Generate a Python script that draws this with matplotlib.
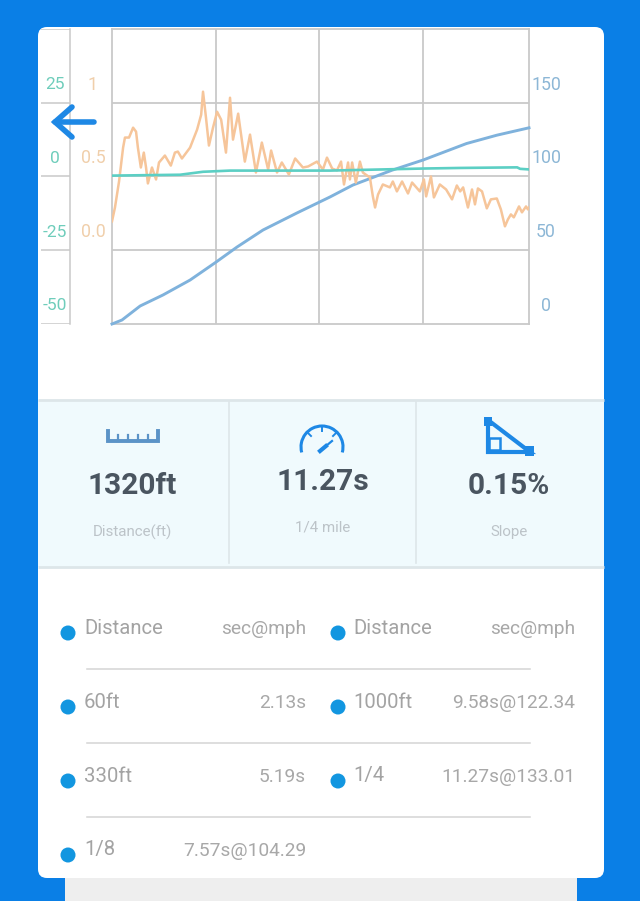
import matplotlib
matplotlib.use("Agg")
import matplotlib.pyplot as plt
from matplotlib.patches import FancyBboxPatch, Rectangle, Circle, Arc

plt.rcParams['font.family'] = ['Roboto', 'DejaVu Sans']

# ---- chart data, x is time in seconds
g_t = [0, 0.08, 0.19, 0.30, 0.35, 0.46, 0.57, 0.65, 0.70, 0.78, 0.86, 0.92, 0.97, 1.08, 1.19, 1.27,
       1.43, 1.59, 1.70, 1.78, 1.89, 2.11, 2.30, 2.41, 2.46, 2.54, 2.62, 2.73, 2.84, 2.95, 3.08, 3.19,
       3.27, 3.41, 3.59, 3.73, 3.89, 4.05, 4.22, 4.30, 4.46, 4.59, 4.78, 4.95, 5.16, 5.30, 5.54, 5.70,
       5.81, 5.95, 6.08, 6.19, 6.27, 6.38, 6.43, 6.49, 6.59, 6.70, 6.78, 6.97, 7.05, 7.11, 7.19, 7.32,
       7.51, 7.59, 7.70, 7.84, 8.00, 8.11, 8.32, 8.43, 8.49, 8.62, 8.70, 8.86, 9.03, 9.19, 9.32, 9.41,
       9.49, 9.62, 9.73, 9.81, 9.89, 10.00, 10.13, 10.24, 10.40, 10.51, 10.62, 10.70, 10.78, 10.86,
       11.00, 11.08, 11.19, 11.24, 11.27]
g_val = [.196, .290, .466, .696, .764, .764, .831, .804, .696, .561, .662, .561, .453, .561, .480, .595,
         .642, .574, .662, .669, .622, .696, .818, .919, 1.075, .899, .710, .831, .939, .885, .662, 1.034,
         .750, .926, .601, .784, .527, .730, .547, .676, .527, .595, .514, .622, .561, .568, .601, .547,
         .628, .554, .541, .601, .446, .595, .480, .595, .459, .601, .527, .493, .365, .290, .378, .446,
         .426, .466, .399, .466, .385, .459, .399, .480, .365, .500, .358, .446, .412, .345, .439, .399,
         .426, .290, .412, .311, .419, .399, .284, .345, .351, .277, .162, .209, .243, .223,
         .297, .257, .297, .277, .290]

speed_t = [0, 0.27, 0.76, 1.38, 2.11, 2.78, 3.38, 4.08, 5.00, 5.89, 6.51, 7.57, 8.41, 9.58, 10.40, 11.27]
speed = [0, 2.7, 12.2, 19.7, 29.8, 41.4, 52.2, 63.7, 75.3, 86.1, 94.2, 104.29, 111.2, 122.34, 128.0, 133.01]

slope_t = [0, 1.84, 2.46, 3.19, 5.89, 8.41, 9.41, 10.95, 11.03, 11.27]
slope = [0.3, 0.6, 1.6, 2.0, 2.0, 2.7, 2.9, 3.1, 2.6, 2.4]

speed_ticks = [0, 50, 100, 150]
g_ticks = [0.0, 0.5, 1.0]
g_labels = ['0.0', '0.5', '1']
slope_ticks = [-50, -25, 0, 25]
slope_labels = ['-50', '-25', '0', '25']

# ---- page text
stat_vals = ['1320ft', '11.27s', '0.15%']
stat_names = ['Distance(ft)', '1/4 mile', 'Slope']
left_names = ['Distance', '60ft', '330ft', '1/8']
left_vals = ['sec@mph', '2.13s', '5.19s', '7.57s@104.29']
right_names = ['Distance', '1000ft', '1/4']
right_vals = ['sec@mph', '9.58s@122.34', '11.27s@133.01']

W, H = 640, 901
BLUE = '#0A7FE6'
ICON = '#1E88E5'
GRID = '#C9C9C9'


def axes_px(x0, y0, x1, y1):
    return [x0 / W, 1 - y1 / H, (x1 - x0) / W, (y1 - y0) / H]


fig = plt.figure(figsize=(6.4, 9.01), dpi=100, facecolor=BLUE)

# page background, in pixel coordinates
ui = fig.add_axes([0, 0, 1, 1])
ui.set_xlim(0, W)
ui.set_ylim(H, 0)
ui.axis('off')
ui.add_patch(FancyBboxPatch((65, 860), 512, 60, boxstyle='round,pad=0,rounding_size=8', fc='#EEEEEE', ec='none', zorder=1))
ui.add_patch(FancyBboxPatch((38, 27), 566, 851, boxstyle='round,pad=0,rounding_size=9', fc='white', ec='none', zorder=2))
ui.add_patch(Rectangle((38, 400), 566, 167, fc='#F0FAFD', ec='none', zorder=3))
for y in (400, 567):
    ui.plot([38, 604], [y, y], color='#DDE6E9', lw=2, solid_capstyle='butt', zorder=4)
for x in (229, 416):
    ui.plot([x, x], [402, 563], color='#DDE6E9', lw=1.2, zorder=4)

# stats band
for x, yv, yn, v, n in zip((132, 323, 509), (486, 482, 486), (532, 528, 532), stat_vals, stat_names):
    ui.text(x, yv, v, ha='center', va='center', fontsize=21.5, fontweight='bold', color='#4A5560', zorder=5)
    ui.text(x, yn, n, ha='center', va='center', fontsize=10.9, color='#BCC3C8', zorder=5)

# ruler icon
ui.plot([108, 108, 158, 158], [431, 441, 441, 431], color='#5B93C7', lw=2.8, solid_joinstyle='miter', zorder=5)
for x in (118, 128, 138, 148):
    ui.plot([x, x], [435, 441], color='#5B93C7', lw=1.6, zorder=5)

# gauge icon, y axis is flipped so the angles run the other way
ui.add_patch(Arc((322, 447), 42, 42, theta1=-195, theta2=15, color=ICON, lw=2.2, zorder=5))
ui.plot([322, 322], [426, 431], color=ICON, lw=1.4, zorder=5)
ui.plot([307, 311], [432, 436], color=ICON, lw=1.4, zorder=5)
ui.plot([337, 333], [432, 436], color=ICON, lw=1.4, zorder=5)
ui.plot([320, 326], [451, 446], color=ICON, lw=3, zorder=5)
ui.plot([326, 332], [446, 441], color=ICON, lw=1.6, zorder=5)

# slope icon
ui.plot([488, 488, 530, 488], [420, 452, 452, 420], color=ICON, lw=3, solid_joinstyle='miter', zorder=5)
ui.add_patch(Rectangle((489, 438), 11, 12, fc='none', ec=ICON, lw=1.8, zorder=5))
ui.add_patch(Rectangle((484, 417), 8, 9, fc=ICON, ec='none', zorder=6))
ui.add_patch(Rectangle((525, 446), 9, 10, fc=ICON, ec='none', zorder=6))

# table of passes
row_y = [628, 702, 776, 850]
for y in (669, 743, 817):
    ui.plot([87, 530], [y, y], color='#D4D4D4', lw=1.1, zorder=4)
for dot_x, name_x, val_x, names, vals in ((68, 84, 306, left_names, left_vals), (338, 353, 575, right_names, right_vals)):
    for y, n, v in zip(row_y, names, vals):
        ui.add_patch(Circle((dot_x, y + 5), 7.5, fc='#1296E0', ec='none', zorder=5))
        ui.text(name_x, y, n, ha='left', va='center', fontsize=14.6, color='#A3A3A3', zorder=5)
        ui.text(val_x, y + 1, v, ha='right', va='center', fontsize=13.8, color='#A8A8A8', zorder=5)

# left scale frame
ax_l = fig.add_axes(axes_px(41, 29, 70, 324), facecolor='none')
ax_l.set_ylim(-50, 50)
ax_l.set_xticks([])
ax_l.set_yticks([-50, -25, 0, 25, 50])
ax_l.tick_params(length=0, labelleft=False)
ax_l.grid(axis='y', color=GRID, lw=1.1)
for s in ('left', 'bottom', 'top'):
    ax_l.spines[s].set_visible(False)
ax_l.spines['right'].set_color(GRID)
ax_l.spines['right'].set_linewidth(1.1)
for v, lab in zip(slope_ticks, slope_labels):
    ax_l.annotate(lab, xy=(0.47, v), xycoords=ax_l.get_yaxis_transform(), xytext=(0, 18),
                  textcoords='offset pixels', ha='center', va='center', fontsize=12.5,
                  color='#6FCDBB', annotation_clip=False)

# main plot: speed axis holds the grid, others are twins
ax = fig.add_axes(axes_px(112, 29, 529, 324), facecolor='none')
ax.set_xlim(0, 11.27)
ax.set_ylim(0, 200)
ax.set_xticks([2.80, 5.60, 8.40])
ax.set_yticks([50, 100, 150])
ax.tick_params(length=0, labelleft=False, labelbottom=False)
ax.grid(True, color=GRID, lw=1.3)
ax.set_axisbelow(True)
for s in ax.spines.values():
    s.set_color(GRID)
    s.set_linewidth(1.3)

ax_g = ax.twinx()
ax_g.set_ylim(-0.5, 1.5)
ax_g.axis('off')
ax_s = ax.twinx()
ax_s.set_ylim(-50, 50)
ax_s.axis('off')

ax_g.plot(g_t, g_val, color='#F6C59A', lw=1.8, solid_joinstyle='round')
ax_s.plot(slope_t, slope, color='#5CCFC4', lw=1.9)
ax.plot(speed_t, speed, color='#7FB2DC', lw=2.1, zorder=5, clip_on=False)

for v in speed_ticks:
    ax.annotate(str(v), xy=(1.041, v), xycoords=ax.get_yaxis_transform(), xytext=(0, 18),
                textcoords='offset pixels', ha='center', va='center', fontsize=12.8,
                color='#8DB7D6', annotation_clip=False)
for v, lab in zip(g_ticks, g_labels):
    ax_g.annotate(lab, xy=(-0.0456, v), xycoords=ax_g.get_yaxis_transform(), xytext=(0, 18),
                  textcoords='offset pixels', ha='center', va='center', fontsize=12.8,
                  color='#F0CFAB', annotation_clip=False)

# back arrow sits on top of everything
top = fig.add_axes([0, 0, 1, 1], facecolor='none')
top.set_xlim(0, W)
top.set_ylim(H, 0)
top.axis('off')
top.plot([94, 55], [122, 122], color=ICON, lw=4, solid_capstyle='round')
top.plot([72, 55, 72], [107, 122, 137], color=ICON, lw=4, solid_capstyle='round', solid_joinstyle='miter')

fig.savefig('out.png', dpi=100, facecolor=BLUE)
